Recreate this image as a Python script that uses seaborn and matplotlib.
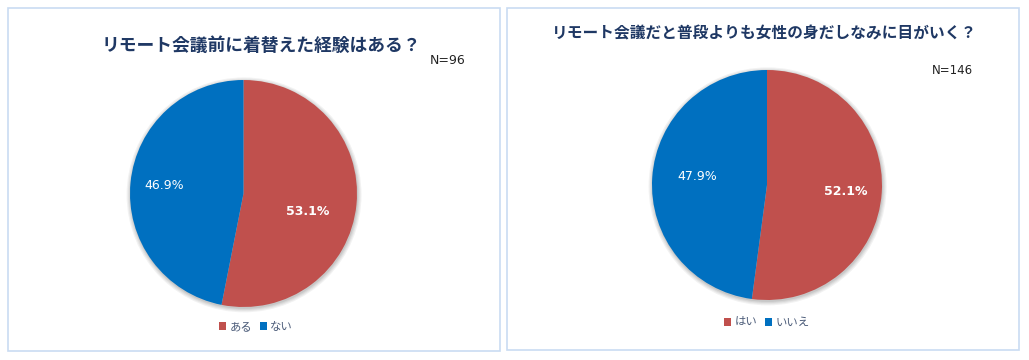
import numpy as np
import matplotlib
matplotlib.use("Agg")
import matplotlib.pyplot as plt
import matplotlib.patches as mpatches
import seaborn as sns

# chart data
left_title = "リモート会議前に着替えた経験はある？"
left_labels = ["ある", "ない"]
left_values = [53.1, 46.9]
left_n = "N=96"

right_title = "リモート会議だと普段よりも女性の身だしなみに目がいく？"
right_labels = ["はい", "いいえ"]
right_values = [52.1, 47.9]
right_n = "N=146"

sns.set_theme(style="white")
plt.rcParams["font.family"] = ["Noto Sans CJK JP", "DejaVu Sans"]

colors = ["#C0504D", "#0070C0"]
TITLE_COLOR = "#1F3864"
LEGEND_COLOR = "#4D5D7A"
BORDER = "#C9DCF2"

W, H = 1029, 360
fig = plt.figure(figsize=(W / 100, H / 100), dpi=100)
fig.patch.set_facecolor("white")


def px_box(x0, y0, x1, y1):
    # pixel box (top-left origin) -> figure fraction rect
    return [x0 / W, 1 - y1 / H, (x1 - x0) / W, (y1 - y0) / H]


def panel(x0, y0, x1, y1):
    r = px_box(x0, y0, x1, y1)
    fig.patches.append(mpatches.Rectangle((r[0], r[1]), r[2], r[3],
                                          transform=fig.transFigure,
                                          facecolor="white", edgecolor=BORDER,
                                          lw=1.2, zorder=-5))


def draw_pie(cx, cy, rad, values, labels, label_pos, legend_xy):
    ax = fig.add_axes(px_box(cx - rad, cy - rad, cx + rad, cy + rad))
    ax.patch.set_alpha(0)
    # soft shadow
    for i, a in enumerate([0.05, 0.05, 0.06, 0.07]):
        ax.add_patch(mpatches.Circle((0.005, -0.012), 1.035 - i * 0.01,
                                     color="#000000", alpha=a, lw=0,
                                     zorder=0, clip_on=False))
    wedges, _ = ax.pie(values, colors=colors, startangle=90,
                       counterclock=False, radius=1.0,
                       wedgeprops=dict(linewidth=0))
    ax.set_xlim(-1, 1)
    ax.set_ylim(-1, 1)
    ax.set_aspect("equal")
    ax.axis("off")
    for i, (v, (ang, dist)) in enumerate(zip(values, label_pos)):
        t = np.deg2rad(ang)
        ax.text(dist * np.cos(t), dist * np.sin(t), f"{v:.1f}%",
                ha="center", va="center", color="white",
                fontsize=9, family="DejaVu Sans",
                fontweight="bold" if i == 0 else "normal")
    fig.legend(wedges, labels, loc="center",
               bbox_to_anchor=(legend_xy[0] / W, 1 - legend_xy[1] / H),
               ncol=2, frameon=False, fontsize=8.2,
               handlelength=0.6, handleheight=0.6, handletextpad=0.3,
               columnspacing=0.7, labelcolor=LEGEND_COLOR)
    return ax


panel(8, 8, 500, 351)
panel(507, 8, 1019, 350)

# left chart
fig.text(261 / W, 1 - 46 / H, left_title, ha="center", va="center",
         fontsize=12.8, fontweight="bold", color=TITLE_COLOR)
fig.text(448 / W, 1 - 61 / H, left_n, ha="center", va="center",
         fontsize=9, family="DejaVu Sans", color="#222222")
draw_pie(243.5, 193.5, 113.5, left_values, left_labels,
         [(-16, 0.59), (174, 0.70)], (256, 327))

# right chart
fig.text(764.5 / W, 1 - 33 / H, right_title, ha="center", va="center",
         fontsize=11.3, fontweight="bold", color=TITLE_COLOR)
fig.text(952 / W, 1 - 71 / H, right_n, ha="center", va="center",
         fontsize=8.5, family="DejaVu Sans", color="#222222")
draw_pie(767, 185, 115, right_values, right_labels,
         [(-5, 0.69), (173, 0.61)], (767, 323))

fig.savefig("out.png", dpi=100)
